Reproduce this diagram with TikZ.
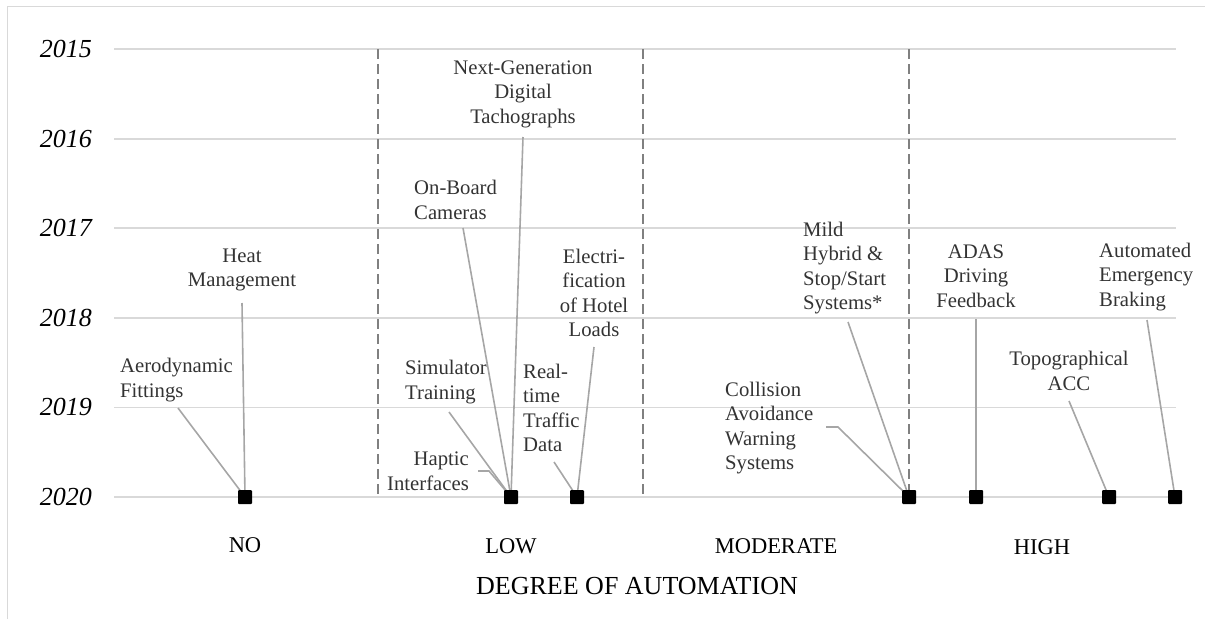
\documentclass[tikz,border=0pt]{standalone}
\usepackage{fontspec}
\setmainfont{Liberation Serif}
\begin{document}
\begin{tikzpicture}[x=1pt,y=-1pt,
  grid/.style={draw=black!15,line width=1.8pt},
  sep/.style={draw=black!50,line width=1.8pt,dash pattern=on 10pt off 5pt},
  lead/.style={draw=black!35,line width=1.6pt},
  mk/.style={fill=black,draw=none,minimum size=14pt,inner sep=0pt,rounded corners=1pt},
  lbl/.style={font=\fontsize{20.7}{24.5}\selectfont,text=black!80,inner sep=0pt},
  yr/.style={font=\fontsize{26}{28}\selectfont\itshape,anchor=east,inner sep=0pt},
  cat/.style={font=\fontsize{22.5}{24}\selectfont,inner sep=0pt}]
\useasboundingbox (0,0) rectangle (1205,619);
% frame
\draw[draw=black!15,line width=1.5pt] (7.5,619) -- (7.5,6.5) -- (1205,6.5);
% grid lines and years
\foreach \yy/\lab in {49/2015,138.6/2016,228.2/2017,317.8/2018,407.4/2019,497/2020}{
  \draw[grid] (114,\yy) -- (1176,\yy);
  \node[yr] (y\lab) at (92,\yy) {\lab};
}
% separators
\foreach \xx in {378,643,909}{
  \draw[sep] (\xx,49) -- (\xx,497);
}
% markers
\coordinate (p1) at (245,497);
\coordinate (p2) at (511,497);
\coordinate (p3) at (577,497);
\coordinate (p4) at (909,497);
\coordinate (p5) at (976,497);
\coordinate (p6) at (1109,497);
\coordinate (p7) at (1175,497);
% labels
\node[lbl,align=center] (heat) at (242,270) {Heat\\Management};
\node[lbl,align=left,anchor=west] (aero) at (120,380) {Aerodynamic\\Fittings};
\node[lbl,align=center] (tacho) at (523,94) {Next-Generation\\Digital\\Tachographs};
\node[lbl,align=left,anchor=west] (cam) at (414,200) {On-Board\\Cameras};
\node[lbl,align=center] (elec) at (594,293) {Electri-\\fication\\of Hotel\\Loads};
\node[lbl,align=left,anchor=west] (sim) at (405,382) {Simulator\\Training};
\node[lbl,align=right,anchor=east] (hap) at (469,471) {Haptic\\Interfaces};
\node[lbl,align=left,anchor=west] (rt) at (523,408) {Real-\\time\\Traffic\\Data};
\node[lbl,align=left,anchor=west] (mild) at (803,268) {Mild\\Hybrid \&\\Stop/Start\\Systems*};
\node[lbl,align=left,anchor=west] (coll) at (725,428) {Collision\\Avoidance\\Warning\\Systems};
\node[lbl,align=center] (adas) at (976,276) {ADAS\\Driving\\Feedback};
\node[lbl,align=center] (topo) at (1069,371) {Topographical\\ACC};
\node[lbl,align=left,anchor=west] (aeb) at (1099,277) {Automated\\Emergency\\Braking};
% leader start points
\coordinate (cheat) at (242,303);
\coordinate (caero) at (178,408);
\coordinate (ctacho) at (523,137);
\coordinate (ccam) at (463,228);
\coordinate (celec) at (594,347);
\coordinate (csim) at (449,412);
\coordinate (chap) at (478,471);
\coordinate (chapb) at (489,471);
\coordinate (crt) at (554,462);
\coordinate (cmild) at (848,322);
\coordinate (ccoll) at (826,427);
\coordinate (ccollb) at (838,427);
\coordinate (cadas) at (976,319);
\coordinate (ctopo) at (1069,401);
\coordinate (caeb) at (1147,320);
% leaders
\draw[lead] (cheat) -- (p1);
\draw[lead] (caero) -- (p1);
\draw[lead] (ctacho) -- (p2);
\draw[lead] (ccam) -- (p2);
\draw[lead] (csim) -- (p2);
\draw[lead] (chap) -- (chapb) -- (p2);
\draw[lead] (celec) -- (p3);
\draw[lead] (crt) -- (p3);
\draw[lead] (cmild) -- (p4);
\draw[lead] (ccoll) -- (ccollb) -- (p4);
\draw[lead] (cadas) -- (p5);
\draw[lead] (ctopo) -- (p6);
\draw[lead] (caeb) -- (p7);
% squares
\foreach \i in {1,...,7}{ \node[mk] (m\i) at (p\i) {}; }
% category labels
\node[cat] (cno) at (245,545) {NO};
\node[cat] (clow) at (511,546) {LOW};
\node[cat] (cmod) at (776,546) {MODERATE};
\node[cat] (chigh) at (1042,547) {HIGH};
\node[font=\fontsize{26}{28}\selectfont,inner sep=0pt] (axis) at (637,586) {DEGREE OF AUTOMATION};
\end{tikzpicture}
\end{document}
